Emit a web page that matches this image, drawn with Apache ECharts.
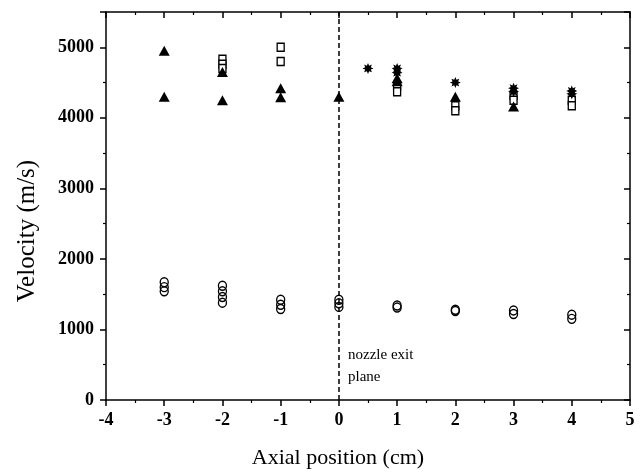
<!DOCTYPE html>
<html>
<head>
<meta charset="utf-8">
<script src="https://cdn.jsdelivr.net/npm/echarts@6/dist/echarts.min.js"></script>
<style>
  html, body { margin: 0; padding: 0; background: #fff; }
  #chart { width: 643px; height: 474px; }
</style>
</head>
<body>
<div id="chart"></div>
<script>
// filled triangles
const triX = [-3, -3, -2, -2, -1, -1, 0, 1, 1, 2, 3];
const triY = [4950, 4300, 4650, 4250, 4420, 4290, 4300, 4560, 4520, 4300, 4160];
// open squares
const sqX = [-2, -2, -2, -1, -1, 1, 1, 2, 2, 3, 3, 4, 4];
const sqY = [4830, 4760, 4700, 5000, 4800, 4450, 4370, 4170, 4100, 4320, 4250, 4250, 4170];
// stars
const starX = [0.5, 1, 1, 2, 3, 3, 4, 4];
const starY = [4700, 4700, 4640, 4500, 4420, 4370, 4380, 4340];
// open circles
const circX = [-3, -3, -3, -2, -2, -2, -2, -1, -1, -1, 0, 0, 0, 1, 1, 2, 2, 3, 3, 4, 4];
const circY = [1670, 1600, 1540, 1620, 1540, 1460, 1380, 1420, 1350, 1290, 1420, 1370, 1320,
  1340, 1310, 1280, 1260, 1270, 1220, 1210, 1150];

const xTicks = [-4, 5, 1];       // min, max, interval
const yTicks = [0, 5500, 1000];  // min, max, interval
const exitX = 0;

function zip(xs, ys) {
  return xs.map((x, i) => [x, ys[i]]);
}

function starPath() {
  const pts = [];
  for (let k = 0; k < 16; k++) {
    const a = (k * Math.PI) / 8;
    const r = k % 2 === 0 ? 10 : 5.5;
    pts.push((r * Math.cos(a)).toFixed(2) + "," + (r * Math.sin(a)).toFixed(2));
  }
  return "path://M" + pts.join("L") + "Z";
}

const font = "'Liberation Serif', 'DejaVu Serif', serif";
const black = "#000";

const chart = echarts.init(document.getElementById("chart"));

const baseX = {
  type: "value",
  min: xTicks[0],
  max: xTicks[1],
  interval: xTicks[2],
  splitLine: { show: false },
  axisLine: { onZero: false, lineStyle: { color: black, width: 1.5 } },
  minorTick: { show: true, splitNumber: 2, length: 3, lineStyle: { color: black, width: 1.2 } },
};
const baseY = {
  type: "value",
  min: yTicks[0],
  max: yTicks[1],
  interval: yTicks[2],
  splitLine: { show: false },
  axisLine: { onZero: false, lineStyle: { color: black, width: 1.5 } },
  minorTick: { show: true, splitNumber: 2, length: 3, lineStyle: { color: black, width: 1.2 } },
};

chart.setOption({
  animation: false,
  backgroundColor: "#fff",
  grid: { left: 106, right: 13, top: 12, bottom: 74 },
  xAxis: [
    Object.assign({}, baseX, {
      position: "bottom",
      axisTick: { show: true, length: 6, lineStyle: { color: black, width: 1.5 } },
      axisLabel: { margin: 11, fontFamily: font, fontSize: 18, fontWeight: "bold", color: black },
    }),
    Object.assign({}, baseX, {
      position: "top",
      axisTick: { show: true, inside: true, length: 6, lineStyle: { color: black, width: 1.5 } },
      axisLabel: { show: false },
    }),
  ],
  yAxis: [
    Object.assign({}, baseY, {
      position: "left",
      axisTick: { show: true, length: 6, lineStyle: { color: black, width: 1.5 } },
      axisLabel: {
        margin: 12,
        fontFamily: font,
        fontSize: 18,
        fontWeight: "bold",
        color: black,
        formatter: (v) => (v % 1000 === 0 ? String(v) : ""),
      },
    }),
    Object.assign({}, baseY, {
      position: "right",
      axisTick: { show: true, inside: true, length: 6, lineStyle: { color: black, width: 1.5 } },
      axisLabel: { show: false },
    }),
  ],
  graphic: [
    {
      type: "text",
      x: 27,
      y: 231,
      rotation: Math.PI / 2,
      style: {
        text: "Velocity (m/s)",
        font: "25px " + font,
        fill: black,
        align: "center",
        verticalAlign: "middle",
      },
    },
    {
      type: "text",
      x: 338,
      y: 458,
      style: {
        text: "Axial position (cm)",
        font: "22px " + font,
        fill: black,
        align: "center",
        verticalAlign: "middle",
      },
    },
    {
      type: "text",
      left: 348,
      top: 344,
      style: {
        text: "nozzle exit\nplane",
        font: "15px " + font,
        fill: black,
        lineHeight: 22,
      },
    },
  ],
  series: [
    {
      type: "scatter",
      name: "circles",
      data: zip(circX, circY),
      symbol: "circle",
      symbolSize: [8, 9],
      itemStyle: { color: "rgba(0,0,0,0)", borderColor: black, borderWidth: 1.4, opacity: 1 },
      markLine: {
        silent: true,
        symbol: "none",
        label: { show: false },
        lineStyle: { color: black, type: [5, 3], width: 1.5, opacity: 1 },
        data: [{ xAxis: exitX }],
      },
    },
    {
      type: "scatter",
      name: "squares",
      data: zip(sqX, sqY),
      symbol: "rect",
      symbolSize: [7, 8],
      itemStyle: { color: "#fff", borderColor: black, borderWidth: 1.4, opacity: 1 },
    },
    {
      type: "scatter",
      name: "triangles",
      data: zip(triX, triY),
      symbol: "triangle",
      symbolSize: [11, 10],
      itemStyle: { color: black, opacity: 1 },
    },
    {
      type: "scatter",
      name: "stars",
      data: zip(starX, starY),
      symbol: starPath(),
      symbolSize: 11,
      itemStyle: { color: black, opacity: 1 },
    },
  ],
});
</script>
</body>
</html>
